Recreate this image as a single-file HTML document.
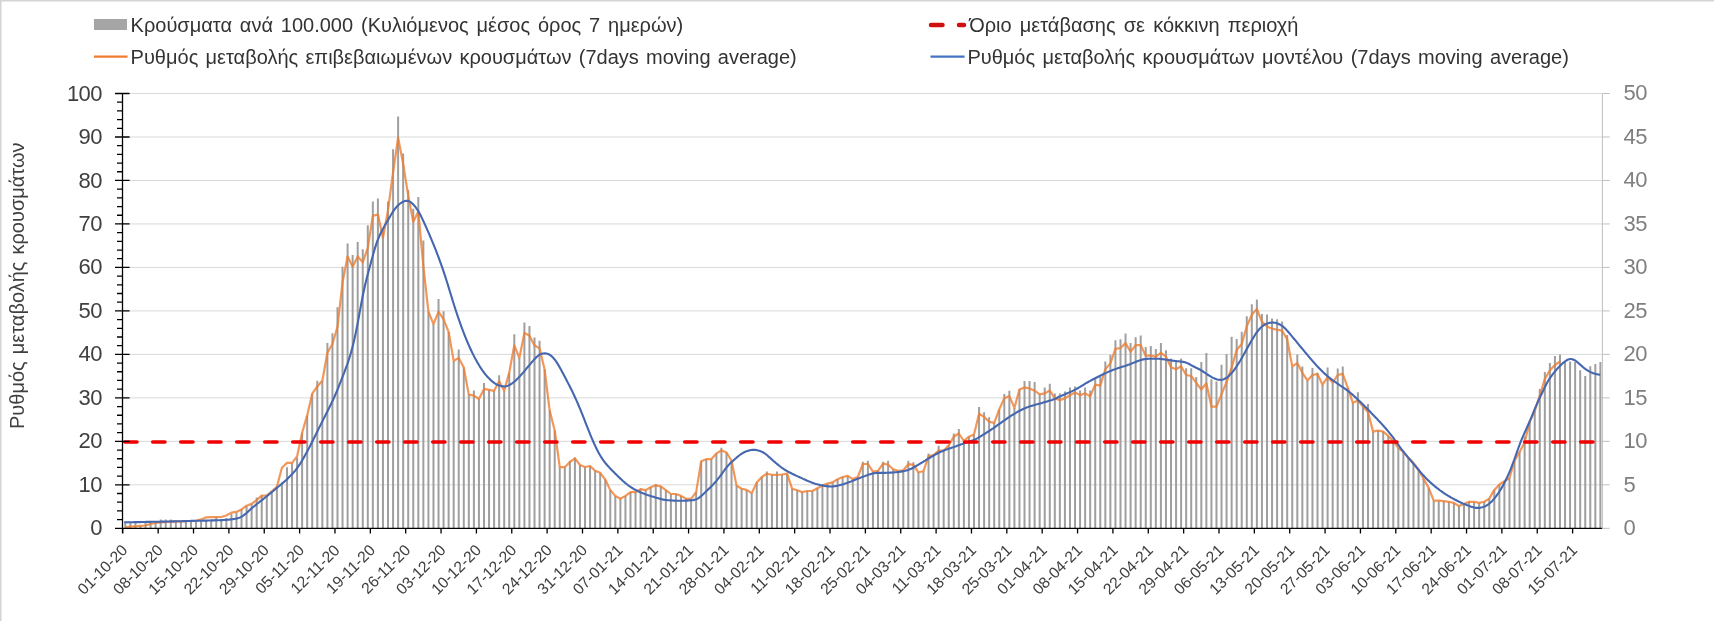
<!DOCTYPE html><html><head><meta charset="utf-8"><style>html,body{margin:0;padding:0;background:#fff;}body{width:1714px;height:621px;overflow:hidden;position:relative;}svg{position:absolute;left:0;top:0;will-change:transform;}</style></head><body>
<svg width="1714" height="621" viewBox="0 0 1714 621" font-family='"Liberation Sans", sans-serif'>
<rect x="0" y="0" width="1714" height="1.5" fill="#d4d4d4"/><rect x="0" y="0" width="1.5" height="621" fill="#d4d4d4"/>
<path d="M122.5 484.82H1602.4 M122.5 441.34H1602.4 M122.5 397.86H1602.4 M122.5 354.38H1602.4 M122.5 310.90H1602.4 M122.5 267.42H1602.4 M122.5 223.94H1602.4 M122.5 180.46H1602.4 M122.5 136.98H1602.4 M122.5 93.50H1602.4" stroke="#d9d9d9" stroke-width="1" fill="none"/>
<path d="M125.33 522.3V528.3 M130.38 522.3V528.3 M135.43 522.3V528.3 M140.48 525.8V528.3 M145.53 522.3V528.3 M150.58 522.3V528.3 M155.64 523.0V528.3 M160.69 519.5V528.3 M165.74 519.5V528.3 M170.79 519.5V528.3 M175.84 520.1V528.3 M180.89 521.2V528.3 M185.94 521.2V528.3 M191.00 521.2V528.3 M196.05 520.8V528.3 M201.10 520.8V528.3 M206.15 520.1V528.3 M211.20 519.5V528.3 M216.25 517.1V528.3 M221.31 519.1V528.3 M226.36 518.0V528.3 M231.41 513.7V528.3 M236.46 512.6V528.3 M241.51 509.3V528.3 M246.56 506.1V528.3 M251.62 503.9V528.3 M256.67 497.5V528.3 M261.72 495.3V528.3 M266.77 495.3V528.3 M271.82 491.0V528.3 M276.87 486.7V528.3 M281.93 482.4V528.3 M286.98 467.2V528.3 M292.03 462.9V528.3 M297.08 457.5V528.3 M302.13 432.7V528.3 M307.18 415.4V528.3 M312.23 393.7V528.3 M317.29 380.7V528.3 M322.34 380.7V528.3 M327.39 343.0V528.3 M332.44 333.2V528.3 M337.49 307.3V528.3 M342.54 266.7V528.3 M347.60 243.5V528.3 M352.65 255.1V528.3 M357.70 242.0V528.3 M362.75 249.3V528.3 M367.80 225.2V528.3 M372.85 201.4V528.3 M377.91 198.6V528.3 M382.96 230.4V528.3 M388.01 201.4V528.3 M393.06 149.3V528.3 M398.11 116.5V528.3 M403.16 153.6V528.3 M408.22 189.9V528.3 M413.27 208.7V528.3 M418.32 197.1V528.3 M423.37 240.6V528.3 M428.42 311.6V528.3 M433.47 324.2V528.3 M438.52 299.1V528.3 M443.58 311.2V528.3 M448.63 331.9V528.3 M453.68 360.9V528.3 M458.73 349.4V528.3 M463.78 367.6V528.3 M468.83 394.7V528.3 M473.89 390.5V528.3 M478.94 399.0V528.3 M483.99 382.9V528.3 M489.04 389.9V528.3 M494.09 390.8V528.3 M499.14 375.3V528.3 M504.20 390.8V528.3 M509.25 372.5V528.3 M514.30 334.3V528.3 M519.35 358.0V528.3 M524.40 322.4V528.3 M529.45 326.1V528.3 M534.51 337.6V528.3 M539.56 340.8V528.3 M544.61 369.6V528.3 M549.66 410.6V528.3 M554.71 430.5V528.3 M559.76 467.2V528.3 M564.81 467.2V528.3 M569.87 460.8V528.3 M574.92 457.5V528.3 M579.97 465.0V528.3 M585.02 467.0V528.3 M590.07 466.0V528.3 M595.12 470.8V528.3 M600.18 472.8V528.3 M605.23 479.5V528.3 M610.28 490.1V528.3 M615.33 495.9V528.3 M620.38 498.8V528.3 M625.43 495.9V528.3 M630.49 492.1V528.3 M635.54 492.1V528.3 M640.59 488.8V528.3 M645.64 490.1V528.3 M650.69 487.2V528.3 M655.74 484.1V528.3 M660.80 486.3V528.3 M665.85 490.1V528.3 M670.90 494.0V528.3 M675.95 494.0V528.3 M681.00 495.9V528.3 M686.05 498.8V528.3 M691.10 498.8V528.3 M696.16 492.1V528.3 M701.21 461.2V528.3 M706.26 459.2V528.3 M711.31 459.2V528.3 M716.36 453.4V528.3 M721.41 447.8V528.3 M726.47 452.5V528.3 M731.52 460.8V528.3 M736.57 485.6V528.3 M741.62 488.8V528.3 M746.67 489.9V528.3 M751.72 493.2V528.3 M756.78 482.4V528.3 M761.83 477.0V528.3 M766.88 471.6V528.3 M771.93 474.8V528.3 M776.98 471.6V528.3 M782.03 474.5V528.3 M787.09 473.7V528.3 M792.14 488.8V528.3 M797.19 490.3V528.3 M802.24 492.1V528.3 M807.29 491.0V528.3 M812.34 491.0V528.3 M817.39 488.3V528.3 M822.45 485.6V528.3 M827.50 483.5V528.3 M832.55 482.4V528.3 M837.60 479.3V528.3 M842.65 477.0V528.3 M847.70 475.9V528.3 M852.76 479.1V528.3 M857.81 477.0V528.3 M862.86 461.8V528.3 M867.91 460.8V528.3 M872.96 471.6V528.3 M878.01 470.9V528.3 M883.07 461.8V528.3 M888.12 460.8V528.3 M893.17 469.2V528.3 M898.22 470.9V528.3 M903.27 470.3V528.3 M908.32 460.8V528.3 M913.38 462.2V528.3 M918.43 472.3V528.3 M923.48 471.2V528.3 M928.53 453.5V528.3 M933.58 455.1V528.3 M938.63 445.8V528.3 M943.68 450.7V528.3 M948.74 445.3V528.3 M953.79 433.5V528.3 M958.84 429.1V528.3 M963.89 441.0V528.3 M968.94 436.7V528.3 M973.99 434.5V528.3 M979.05 406.9V528.3 M984.10 412.3V528.3 M989.15 417.3V528.3 M994.20 422.9V528.3 M999.25 409.4V528.3 M1004.30 393.9V528.3 M1009.36 390.7V528.3 M1014.41 407.9V528.3 M1019.46 389.6V528.3 M1024.51 381.0V528.3 M1029.56 381.0V528.3 M1034.61 382.0V528.3 M1039.67 394.3V528.3 M1044.72 387.6V528.3 M1049.77 383.7V528.3 M1054.82 393.4V528.3 M1059.87 393.4V528.3 M1064.92 391.4V528.3 M1069.97 387.6V528.3 M1075.03 386.6V528.3 M1080.08 390.5V528.3 M1085.13 387.6V528.3 M1090.18 390.5V528.3 M1095.23 377.9V528.3 M1100.28 377.0V528.3 M1105.34 361.5V528.3 M1110.39 354.7V528.3 M1115.44 340.2V528.3 M1120.49 339.3V528.3 M1125.54 333.5V528.3 M1130.59 343.1V528.3 M1135.65 337.3V528.3 M1140.70 335.4V528.3 M1145.75 347.0V528.3 M1150.80 346.0V528.3 M1155.85 348.9V528.3 M1160.90 343.1V528.3 M1165.96 350.3V528.3 M1171.01 358.6V528.3 M1176.06 361.5V528.3 M1181.11 358.6V528.3 M1186.16 368.3V528.3 M1191.21 368.3V528.3 M1196.26 377.0V528.3 M1201.32 362.0V528.3 M1206.37 352.9V528.3 M1211.42 379.3V528.3 M1216.47 381.5V528.3 M1221.52 364.8V528.3 M1226.57 354.0V528.3 M1231.63 336.7V528.3 M1236.68 338.9V528.3 M1241.73 331.8V528.3 M1246.78 316.2V528.3 M1251.83 304.3V528.3 M1256.88 299.4V528.3 M1261.94 314.1V528.3 M1266.99 314.5V528.3 M1272.04 318.4V528.3 M1277.09 319.3V528.3 M1282.14 321.5V528.3 M1287.19 335.1V528.3 M1292.25 366.4V528.3 M1297.30 354.5V528.3 M1302.35 366.4V528.3 M1307.40 380.4V528.3 M1312.45 368.1V528.3 M1317.50 372.8V528.3 M1322.55 384.7V528.3 M1327.61 367.4V528.3 M1332.66 382.5V528.3 M1337.71 368.5V528.3 M1342.76 366.4V528.3 M1347.81 387.9V528.3 M1352.86 402.8V528.3 M1357.92 392.3V528.3 M1362.97 406.5V528.3 M1368.02 404.1V528.3 M1373.07 431.6V528.3 M1378.12 430.5V528.3 M1383.17 431.6V528.3 M1388.23 435.9V528.3 M1393.28 441.3V528.3 M1398.33 447.8V528.3 M1403.38 452.0V528.3 M1408.43 457.9V528.3 M1413.48 462.9V528.3 M1418.54 469.4V528.3 M1423.59 479.1V528.3 M1428.64 487.8V528.3 M1433.69 500.7V528.3 M1438.74 500.7V528.3 M1443.79 501.2V528.3 M1448.84 501.8V528.3 M1453.90 502.9V528.3 M1458.95 506.1V528.3 M1464.00 503.9V528.3 M1469.05 501.8V528.3 M1474.10 501.8V528.3 M1479.15 502.9V528.3 M1484.21 501.8V528.3 M1489.26 498.6V528.3 M1494.31 489.9V528.3 M1499.36 484.5V528.3 M1504.41 481.3V528.3 M1509.46 478.0V528.3 M1514.52 460.8V528.3 M1519.57 452.1V528.3 M1524.62 436.4V528.3 M1529.67 421.9V528.3 M1534.72 411.1V528.3 M1539.77 388.9V528.3 M1544.83 372.1V528.3 M1549.88 362.9V528.3 M1554.93 355.9V528.3 M1559.98 354.4V528.3 M1565.03 361.5V528.3 M1570.08 361.5V528.3 M1575.13 362.1V528.3 M1580.19 370.3V528.3 M1585.24 376.1V528.3 M1590.29 366.2V528.3 M1595.34 364.1V528.3 M1600.39 362.1V528.3" stroke="#9f9f9f" stroke-width="2" fill="none"/>
<polyline points="125.33,527.3 130.38,526.7 135.43,526.3 140.48,525.8 145.53,525.5 150.58,524.0 155.64,523.0 160.69,522.3 165.74,522.0 170.79,521.8 175.84,521.6 180.89,521.4 185.94,521.2 191.00,521.0 196.05,520.8 201.10,519.4 206.15,517.3 211.20,517.2 216.25,517.1 221.31,517.0 226.36,515.5 231.41,512.6 236.46,511.9 241.51,509.5 246.56,505.7 251.62,503.8 256.67,500.1 261.72,495.7 266.77,495.7 271.82,491.4 276.87,486.7 281.93,467.7 286.98,462.9 292.03,462.9 297.08,456.4 302.13,432.7 307.18,415.4 312.23,393.7 317.29,386.5 322.34,380.7 327.39,352.7 332.44,344.0 337.49,326.8 342.54,282.3 347.60,256.5 352.65,266.7 357.70,256.5 362.75,262.3 367.80,247.8 372.85,215.9 377.91,214.5 382.96,237.7 388.01,210.1 393.06,172.5 398.11,137.7 403.16,163.8 408.22,195.7 413.27,221.7 418.32,211.6 423.37,266.4 428.42,311.6 433.47,324.2 438.52,311.6 443.58,319.3 448.63,331.9 453.68,360.9 458.73,358.0 463.78,367.6 468.83,394.7 473.89,395.7 478.94,399.0 483.99,388.9 489.04,389.9 494.09,390.8 499.14,381.2 504.20,390.8 509.25,372.5 514.30,345.4 519.35,358.0 524.40,332.9 529.45,335.7 534.51,345.4 539.56,348.3 544.61,369.6 549.66,410.6 554.71,430.5 559.76,467.2 564.81,467.2 569.87,462.1 574.92,458.3 579.97,465.0 585.02,467.0 590.07,466.0 595.12,470.8 600.18,472.8 605.23,479.5 610.28,490.1 615.33,495.9 620.38,498.8 625.43,495.9 630.49,492.1 635.54,492.1 640.59,489.2 645.64,490.1 650.69,487.2 655.74,485.3 660.80,486.3 665.85,490.1 670.90,494.0 675.95,494.0 681.00,495.9 686.05,498.8 691.10,498.8 696.16,492.1 701.21,461.2 706.26,459.2 711.31,459.2 716.36,453.4 721.41,450.5 726.47,452.5 731.52,460.8 736.57,485.6 741.62,488.8 746.67,489.9 751.72,493.2 756.78,482.4 761.83,477.0 766.88,473.7 771.93,474.8 776.98,474.8 782.03,474.5 787.09,473.7 792.14,488.8 797.19,490.3 802.24,492.1 807.29,491.0 812.34,491.0 817.39,488.3 822.45,485.6 827.50,483.5 832.55,482.4 837.60,479.3 842.65,477.0 847.70,475.9 852.76,479.1 857.81,477.0 862.86,464.0 867.91,464.0 872.96,471.6 878.01,470.9 883.07,463.7 888.12,464.7 893.17,469.2 898.22,470.9 903.27,470.3 908.32,464.2 913.38,464.8 918.43,472.3 923.48,471.2 928.53,456.1 933.58,455.1 938.63,450.7 943.68,450.7 948.74,445.3 953.79,436.7 958.84,433.5 963.89,441.0 968.94,436.7 973.99,434.5 979.05,413.7 984.10,416.9 989.15,421.8 994.20,422.9 999.25,409.4 1004.30,398.2 1009.36,396.1 1014.41,407.9 1019.46,389.6 1024.51,387.4 1029.56,388.5 1034.61,390.7 1039.67,394.3 1044.72,393.4 1049.77,390.5 1054.82,398.2 1059.87,400.1 1064.92,398.2 1069.97,395.3 1075.03,392.4 1080.08,395.3 1085.13,393.4 1090.18,396.3 1095.23,384.7 1100.28,385.7 1105.34,369.2 1110.39,363.4 1115.44,348.9 1120.49,348.0 1125.54,343.1 1130.59,351.8 1135.65,345.1 1140.70,345.1 1145.75,355.7 1150.80,355.7 1155.85,356.7 1160.90,352.8 1165.96,356.7 1171.01,367.3 1176.06,369.2 1181.11,366.3 1186.16,375.0 1191.21,376.0 1196.26,382.8 1201.32,389.5 1206.37,383.2 1211.42,406.6 1216.47,406.6 1221.52,394.2 1226.57,382.3 1231.63,367.7 1236.68,349.9 1241.73,344.0 1246.78,326.2 1251.83,314.8 1256.88,308.9 1261.94,321.8 1266.99,326.4 1272.04,328.6 1277.09,329.7 1282.14,330.7 1287.19,339.4 1292.25,366.4 1297.30,363.1 1302.35,372.8 1307.40,380.4 1312.45,375.0 1317.50,373.9 1322.55,384.7 1327.61,377.2 1332.66,382.5 1337.71,375.0 1342.76,373.9 1347.81,387.9 1352.86,402.8 1357.92,400.6 1362.97,406.5 1368.02,412.2 1373.07,431.6 1378.12,430.5 1383.17,431.6 1388.23,435.9 1393.28,441.3 1398.33,447.8 1403.38,452.0 1408.43,457.9 1413.48,462.9 1418.54,469.4 1423.59,479.1 1428.64,487.8 1433.69,500.7 1438.74,500.7 1443.79,501.2 1448.84,501.8 1453.90,502.9 1458.95,506.1 1464.00,503.9 1469.05,501.8 1474.10,501.8 1479.15,502.9 1484.21,501.8 1489.26,498.6 1494.31,489.9 1499.36,484.5 1504.41,481.3 1509.46,478.0 1514.52,460.8 1519.57,452.1 1524.62,442.4 1529.67,421.9 1534.72,411.1 1539.77,395.5 1544.83,379.0 1549.88,370.3 1554.93,365.0 1559.98,361.5" stroke="#ed7d31" stroke-opacity="0.8" stroke-width="2.2" fill="none" stroke-linejoin="round"/>
<polyline points="124.2,522.3 125.2,522.3 126.2,522.3 127.2,522.3 128.2,522.2 129.2,522.2 130.2,522.2 131.2,522.2 132.2,522.2 133.2,522.2 134.2,522.1 135.2,522.1 136.2,522.1 137.2,522.1 138.2,522.1 139.2,522.1 140.2,522.1 141.2,522.0 142.2,522.0 143.2,522.0 144.2,522.0 145.2,522.0 146.2,521.9 147.2,521.9 148.2,521.9 149.2,521.9 150.2,521.9 151.2,521.8 152.2,521.8 153.2,521.8 154.2,521.8 155.2,521.8 156.2,521.7 157.2,521.7 158.2,521.7 159.2,521.7 160.2,521.7 161.2,521.6 162.2,521.6 163.2,521.6 164.2,521.6 165.2,521.6 166.2,521.5 167.2,521.5 168.2,521.5 169.2,521.5 170.2,521.4 171.2,521.4 172.2,521.4 173.2,521.4 174.2,521.4 175.2,521.3 176.2,521.3 177.2,521.3 178.2,521.3 179.2,521.2 180.2,521.2 181.2,521.2 182.2,521.2 183.2,521.1 184.2,521.1 185.2,521.1 186.2,521.1 187.2,521.0 188.2,521.0 189.2,521.0 190.2,521.0 191.2,520.9 192.2,520.9 193.2,520.9 194.2,520.9 195.2,520.8 196.2,520.8 197.2,520.8 198.2,520.8 199.2,520.7 200.2,520.7 201.2,520.7 202.2,520.7 203.2,520.7 204.2,520.6 205.2,520.6 206.2,520.6 207.2,520.6 208.2,520.5 209.2,520.5 210.2,520.5 211.2,520.5 212.2,520.4 213.2,520.4 214.2,520.4 215.2,520.3 216.2,520.3 217.2,520.3 218.2,520.2 219.2,520.2 220.2,520.2 221.2,520.1 222.2,520.1 223.2,520.0 224.2,520.0 225.2,519.9 226.2,519.9 227.2,519.8 228.2,519.7 229.2,519.6 230.2,519.5 231.2,519.4 232.2,519.3 233.2,519.1 234.2,519.0 235.2,518.8 236.2,518.6 237.2,518.4 238.2,518.1 239.2,517.8 240.2,517.4 241.2,516.9 242.2,516.3 243.2,515.7 244.2,514.9 245.2,514.1 246.2,513.3 247.2,512.4 248.2,511.4 249.2,510.5 250.2,509.6 251.2,508.7 252.2,507.9 253.2,507.0 254.2,506.2 255.2,505.4 256.2,504.6 257.2,503.8 258.2,503.0 259.2,502.2 260.2,501.4 261.2,500.7 262.2,499.9 263.2,499.1 264.2,498.3 265.2,497.5 266.2,496.7 267.2,495.9 268.2,495.1 269.2,494.3 270.2,493.5 271.2,492.6 272.2,491.8 273.2,491.0 274.2,490.1 275.2,489.3 276.2,488.5 277.2,487.6 278.2,486.8 279.2,486.0 280.2,485.1 281.2,484.3 282.2,483.5 283.2,482.6 284.2,481.7 285.2,480.9 286.2,480.0 287.2,479.0 288.2,478.1 289.2,477.1 290.2,476.1 291.2,475.1 292.2,474.0 293.2,472.9 294.2,471.8 295.2,470.6 296.2,469.3 297.2,468.0 298.2,466.6 299.2,465.1 300.2,463.6 301.2,462.0 302.2,460.3 303.2,458.6 304.2,456.9 305.2,455.1 306.2,453.3 307.2,451.5 308.2,449.6 309.2,447.7 310.2,445.7 311.2,443.8 312.2,441.8 313.2,439.7 314.2,437.7 315.2,435.7 316.2,433.7 317.2,431.7 318.2,429.6 319.2,427.6 320.2,425.6 321.2,423.6 322.2,421.6 323.2,419.6 324.2,417.7 325.2,415.7 326.2,413.7 327.2,411.7 328.2,409.7 329.2,407.8 330.2,405.7 331.2,403.7 332.2,401.6 333.2,399.5 334.2,397.3 335.2,395.0 336.2,392.7 337.2,390.3 338.2,387.8 339.2,385.3 340.2,382.8 341.2,380.3 342.2,377.7 343.2,375.1 344.2,372.6 345.2,369.9 346.2,367.2 347.2,364.5 348.2,361.6 349.2,358.5 350.2,355.3 351.2,351.9 352.2,348.2 353.2,344.3 354.2,340.1 355.2,335.6 356.2,330.8 357.2,325.8 358.2,320.4 359.2,315.0 360.2,309.4 361.2,304.0 362.2,298.7 363.2,293.7 364.2,289.0 365.2,284.6 366.2,280.5 367.2,276.5 368.2,272.7 369.2,269.0 370.2,265.3 371.2,261.6 372.2,257.9 373.2,254.2 374.2,250.7 375.2,247.4 376.2,244.2 377.2,241.4 378.2,238.8 379.2,236.4 380.2,234.2 381.2,232.1 382.2,230.2 383.2,228.4 384.2,226.6 385.2,224.8 386.2,223.1 387.2,221.3 388.2,219.6 389.2,217.9 390.2,216.2 391.2,214.5 392.2,212.9 393.2,211.4 394.2,209.9 395.2,208.6 396.2,207.3 397.2,206.2 398.2,205.2 399.2,204.3 400.2,203.5 401.2,202.8 402.2,202.2 403.2,201.7 404.2,201.3 405.2,201.0 406.2,200.8 407.2,200.9 408.2,201.0 409.2,201.4 410.2,201.9 411.2,202.6 412.2,203.5 413.2,204.4 414.2,205.5 415.2,206.7 416.2,208.1 417.2,209.5 418.2,211.1 419.2,212.8 420.2,214.6 421.2,216.5 422.2,218.6 423.2,220.7 424.2,222.9 425.2,225.1 426.2,227.3 427.2,229.6 428.2,231.9 429.2,234.2 430.2,236.5 431.2,238.9 432.2,241.3 433.2,243.7 434.2,246.2 435.2,248.7 436.2,251.2 437.2,253.8 438.2,256.4 439.2,259.1 440.2,261.8 441.2,264.6 442.2,267.4 443.2,270.3 444.2,273.3 445.2,276.3 446.2,279.5 447.2,282.7 448.2,285.9 449.2,289.2 450.2,292.5 451.2,295.8 452.2,299.1 453.2,302.3 454.2,305.5 455.2,308.6 456.2,311.7 457.2,314.7 458.2,317.6 459.2,320.5 460.2,323.3 461.2,326.1 462.2,328.8 463.2,331.5 464.2,334.1 465.2,336.6 466.2,339.1 467.2,341.5 468.2,343.8 469.2,346.1 470.2,348.3 471.2,350.5 472.2,352.6 473.2,354.6 474.2,356.6 475.2,358.5 476.2,360.3 477.2,362.1 478.2,363.8 479.2,365.5 480.2,367.1 481.2,368.6 482.2,370.1 483.2,371.5 484.2,372.8 485.2,374.1 486.2,375.4 487.2,376.5 488.2,377.6 489.2,378.6 490.2,379.6 491.2,380.5 492.2,381.4 493.2,382.2 494.2,382.9 495.2,383.6 496.2,384.2 497.2,384.7 498.2,385.1 499.2,385.5 500.2,385.8 501.2,386.1 502.2,386.3 503.2,386.4 504.2,386.5 505.2,386.4 506.2,386.2 507.2,386.0 508.2,385.6 509.2,385.1 510.2,384.6 511.2,384.0 512.2,383.3 513.2,382.5 514.2,381.7 515.2,380.9 516.2,380.0 517.2,379.0 518.2,378.0 519.2,376.9 520.2,375.9 521.2,374.8 522.2,373.6 523.2,372.5 524.2,371.3 525.2,370.1 526.2,368.9 527.2,367.7 528.2,366.5 529.2,365.3 530.2,364.1 531.2,362.9 532.2,361.8 533.2,360.6 534.2,359.5 535.2,358.4 536.2,357.4 537.2,356.5 538.2,355.7 539.2,354.9 540.2,354.4 541.2,353.9 542.2,353.6 543.2,353.5 544.2,353.4 545.2,353.4 546.2,353.5 547.2,353.7 548.2,354.0 549.2,354.5 550.2,355.1 551.2,355.9 552.2,356.8 553.2,357.8 554.2,359.0 555.2,360.2 556.2,361.6 557.2,363.1 558.2,364.7 559.2,366.4 560.2,368.2 561.2,370.0 562.2,371.9 563.2,373.8 564.2,375.7 565.2,377.6 566.2,379.5 567.2,381.4 568.2,383.4 569.2,385.3 570.2,387.3 571.2,389.3 572.2,391.3 573.2,393.4 574.2,395.5 575.2,397.7 576.2,399.9 577.2,402.1 578.2,404.5 579.2,406.8 580.2,409.2 581.2,411.7 582.2,414.2 583.2,416.7 584.2,419.2 585.2,421.8 586.2,424.3 587.2,426.8 588.2,429.4 589.2,431.9 590.2,434.3 591.2,436.8 592.2,439.2 593.2,441.5 594.2,443.7 595.2,445.9 596.2,448.0 597.2,450.0 598.2,452.0 599.2,453.8 600.2,455.5 601.2,457.2 602.2,458.7 603.2,460.1 604.2,461.5 605.2,462.8 606.2,464.0 607.2,465.2 608.2,466.3 609.2,467.4 610.2,468.5 611.2,469.5 612.2,470.6 613.2,471.6 614.2,472.6 615.2,473.6 616.2,474.5 617.2,475.5 618.2,476.5 619.2,477.4 620.2,478.4 621.2,479.3 622.2,480.2 623.2,481.2 624.2,482.0 625.2,482.9 626.2,483.7 627.2,484.5 628.2,485.3 629.2,486.0 630.2,486.7 631.2,487.4 632.2,488.0 633.2,488.6 634.2,489.2 635.2,489.7 636.2,490.3 637.2,490.8 638.2,491.3 639.2,491.7 640.2,492.2 641.2,492.6 642.2,493.0 643.2,493.4 644.2,493.8 645.2,494.2 646.2,494.5 647.2,494.9 648.2,495.2 649.2,495.5 650.2,495.9 651.2,496.2 652.2,496.5 653.2,496.8 654.2,497.1 655.2,497.4 656.2,497.7 657.2,498.0 658.2,498.3 659.2,498.6 660.2,498.8 661.2,499.1 662.2,499.4 663.2,499.6 664.2,499.8 665.2,499.9 666.2,500.0 667.2,500.2 668.2,500.3 669.2,500.3 670.2,500.4 671.2,500.5 672.2,500.5 673.2,500.6 674.2,500.6 675.2,500.7 676.2,500.7 677.2,500.7 678.2,500.7 679.2,500.7 680.2,500.7 681.2,500.7 682.2,500.7 683.2,500.7 684.2,500.7 685.2,500.7 686.2,500.6 687.2,500.6 688.2,500.5 689.2,500.5 690.2,500.4 691.2,500.3 692.2,500.2 693.2,500.1 694.2,499.9 695.2,499.6 696.2,499.3 697.2,498.9 698.2,498.3 699.2,497.6 700.2,496.9 701.2,496.0 702.2,495.1 703.2,494.2 704.2,493.2 705.2,492.3 706.2,491.3 707.2,490.3 708.2,489.4 709.2,488.4 710.2,487.4 711.2,486.4 712.2,485.4 713.2,484.4 714.2,483.3 715.2,482.2 716.2,481.1 717.2,479.9 718.2,478.6 719.2,477.4 720.2,476.0 721.2,474.7 722.2,473.3 723.2,471.9 724.2,470.5 725.2,469.2 726.2,467.9 727.2,466.7 728.2,465.5 729.2,464.4 730.2,463.3 731.2,462.4 732.2,461.5 733.2,460.6 734.2,459.7 735.2,458.8 736.2,458.0 737.2,457.1 738.2,456.3 739.2,455.5 740.2,454.7 741.2,454.0 742.2,453.4 743.2,452.8 744.2,452.3 745.2,451.8 746.2,451.4 747.2,451.0 748.2,450.7 749.2,450.4 750.2,450.2 751.2,450.0 752.2,449.9 753.2,449.9 754.2,449.9 755.2,449.9 756.2,450.0 757.2,450.2 758.2,450.5 759.2,450.7 760.2,451.1 761.2,451.5 762.2,451.9 763.2,452.5 764.2,453.1 765.2,453.7 766.2,454.5 767.2,455.3 768.2,456.2 769.2,457.1 770.2,458.0 771.2,458.9 772.2,459.8 773.2,460.7 774.2,461.6 775.2,462.4 776.2,463.3 777.2,464.1 778.2,464.9 779.2,465.7 780.2,466.5 781.2,467.3 782.2,468.0 783.2,468.7 784.2,469.4 785.2,470.0 786.2,470.6 787.2,471.2 788.2,471.7 789.2,472.3 790.2,472.8 791.2,473.3 792.2,473.8 793.2,474.2 794.2,474.7 795.2,475.2 796.2,475.6 797.2,476.1 798.2,476.6 799.2,477.0 800.2,477.5 801.2,477.9 802.2,478.4 803.2,478.9 804.2,479.3 805.2,479.8 806.2,480.2 807.2,480.7 808.2,481.1 809.2,481.5 810.2,481.9 811.2,482.3 812.2,482.7 813.2,483.0 814.2,483.4 815.2,483.7 816.2,484.0 817.2,484.2 818.2,484.5 819.2,484.7 820.2,485.0 821.2,485.2 822.2,485.4 823.2,485.6 824.2,485.8 825.2,486.0 826.2,486.1 827.2,486.3 828.2,486.4 829.2,486.4 830.2,486.5 831.2,486.5 832.2,486.5 833.2,486.4 834.2,486.3 835.2,486.1 836.2,486.0 837.2,485.8 838.2,485.5 839.2,485.3 840.2,485.0 841.2,484.8 842.2,484.5 843.2,484.2 844.2,483.9 845.2,483.5 846.2,483.2 847.2,482.9 848.2,482.5 849.2,482.1 850.2,481.7 851.2,481.4 852.2,481.0 853.2,480.6 854.2,480.2 855.2,479.8 856.2,479.4 857.2,479.0 858.2,478.6 859.2,478.2 860.2,477.8 861.2,477.4 862.2,477.0 863.2,476.6 864.2,476.2 865.2,475.9 866.2,475.5 867.2,475.2 868.2,474.8 869.2,474.5 870.2,474.2 871.2,473.9 872.2,473.6 873.2,473.4 874.2,473.2 875.2,473.1 876.2,473.0 877.2,472.9 878.2,472.9 879.2,472.9 880.2,472.9 881.2,472.9 882.2,472.9 883.2,472.9 884.2,472.9 885.2,472.9 886.2,472.8 887.2,472.8 888.2,472.7 889.2,472.7 890.2,472.6 891.2,472.6 892.2,472.5 893.2,472.5 894.2,472.4 895.2,472.3 896.2,472.2 897.2,472.1 898.2,472.0 899.2,471.9 900.2,471.8 901.2,471.6 902.2,471.4 903.2,471.3 904.2,471.0 905.2,470.8 906.2,470.5 907.2,470.2 908.2,469.9 909.2,469.5 910.2,469.1 911.2,468.7 912.2,468.2 913.2,467.7 914.2,467.1 915.2,466.5 916.2,466.0 917.2,465.4 918.2,464.8 919.2,464.2 920.2,463.6 921.2,463.0 922.2,462.4 923.2,461.8 924.2,461.2 925.2,460.6 926.2,459.9 927.2,459.3 928.2,458.7 929.2,458.1 930.2,457.5 931.2,456.9 932.2,456.3 933.2,455.7 934.2,455.2 935.2,454.6 936.2,454.0 937.2,453.5 938.2,453.0 939.2,452.5 940.2,452.0 941.2,451.6 942.2,451.2 943.2,450.8 944.2,450.4 945.2,450.0 946.2,449.6 947.2,449.3 948.2,448.9 949.2,448.6 950.2,448.2 951.2,447.9 952.2,447.6 953.2,447.2 954.2,446.9 955.2,446.5 956.2,446.2 957.2,445.8 958.2,445.4 959.2,445.1 960.2,444.7 961.2,444.3 962.2,444.0 963.2,443.6 964.2,443.2 965.2,442.9 966.2,442.5 967.2,442.2 968.2,441.9 969.2,441.5 970.2,441.2 971.2,440.9 972.2,440.6 973.2,440.2 974.2,439.8 975.2,439.4 976.2,438.9 977.2,438.4 978.2,437.8 979.2,437.2 980.2,436.6 981.2,436.0 982.2,435.3 983.2,434.7 984.2,434.1 985.2,433.5 986.2,432.9 987.2,432.2 988.2,431.6 989.2,431.0 990.2,430.3 991.2,429.6 992.2,428.9 993.2,428.3 994.2,427.6 995.2,426.9 996.2,426.1 997.2,425.4 998.2,424.7 999.2,424.0 1000.2,423.3 1001.2,422.6 1002.2,421.9 1003.2,421.2 1004.2,420.5 1005.2,419.8 1006.2,419.1 1007.2,418.4 1008.2,417.7 1009.2,417.1 1010.2,416.4 1011.2,415.7 1012.2,415.1 1013.2,414.5 1014.2,413.9 1015.2,413.3 1016.2,412.7 1017.2,412.1 1018.2,411.5 1019.2,411.0 1020.2,410.5 1021.2,410.0 1022.2,409.5 1023.2,409.0 1024.2,408.5 1025.2,408.1 1026.2,407.7 1027.2,407.3 1028.2,407.0 1029.2,406.6 1030.2,406.3 1031.2,406.0 1032.2,405.7 1033.2,405.4 1034.2,405.1 1035.2,404.8 1036.2,404.5 1037.2,404.3 1038.2,404.0 1039.2,403.7 1040.2,403.5 1041.2,403.2 1042.2,402.9 1043.2,402.6 1044.2,402.3 1045.2,402.0 1046.2,401.7 1047.2,401.4 1048.2,401.1 1049.2,400.8 1050.2,400.5 1051.2,400.2 1052.2,399.9 1053.2,399.5 1054.2,399.1 1055.2,398.7 1056.2,398.3 1057.2,397.8 1058.2,397.3 1059.2,396.8 1060.2,396.4 1061.2,395.9 1062.2,395.5 1063.2,395.0 1064.2,394.6 1065.2,394.2 1066.2,393.8 1067.2,393.3 1068.2,392.9 1069.2,392.5 1070.2,392.0 1071.2,391.6 1072.2,391.1 1073.2,390.6 1074.2,390.1 1075.2,389.6 1076.2,389.1 1077.2,388.5 1078.2,388.0 1079.2,387.4 1080.2,386.8 1081.2,386.2 1082.2,385.6 1083.2,385.0 1084.2,384.4 1085.2,383.7 1086.2,383.1 1087.2,382.5 1088.2,382.0 1089.2,381.4 1090.2,380.9 1091.2,380.3 1092.2,379.8 1093.2,379.3 1094.2,378.8 1095.2,378.3 1096.2,377.8 1097.2,377.3 1098.2,376.8 1099.2,376.3 1100.2,375.8 1101.2,375.3 1102.2,374.8 1103.2,374.3 1104.2,373.8 1105.2,373.3 1106.2,372.9 1107.2,372.4 1108.2,371.9 1109.2,371.5 1110.2,371.1 1111.2,370.7 1112.2,370.2 1113.2,369.8 1114.2,369.5 1115.2,369.1 1116.2,368.7 1117.2,368.4 1118.2,368.0 1119.2,367.7 1120.2,367.4 1121.2,367.1 1122.2,366.8 1123.2,366.5 1124.2,366.2 1125.2,365.9 1126.2,365.5 1127.2,365.2 1128.2,364.8 1129.2,364.5 1130.2,364.1 1131.2,363.7 1132.2,363.3 1133.2,362.9 1134.2,362.5 1135.2,362.1 1136.2,361.7 1137.2,361.3 1138.2,360.9 1139.2,360.6 1140.2,360.2 1141.2,359.9 1142.2,359.6 1143.2,359.4 1144.2,359.2 1145.2,359.1 1146.2,359.0 1147.2,358.9 1148.2,358.8 1149.2,358.8 1150.2,358.7 1151.2,358.7 1152.2,358.7 1153.2,358.7 1154.2,358.7 1155.2,358.7 1156.2,358.7 1157.2,358.7 1158.2,358.8 1159.2,358.8 1160.2,358.9 1161.2,359.0 1162.2,359.1 1163.2,359.3 1164.2,359.4 1165.2,359.5 1166.2,359.7 1167.2,359.8 1168.2,360.0 1169.2,360.1 1170.2,360.3 1171.2,360.5 1172.2,360.6 1173.2,360.8 1174.2,360.9 1175.2,361.0 1176.2,361.1 1177.2,361.2 1178.2,361.3 1179.2,361.4 1180.2,361.5 1181.2,361.6 1182.2,361.7 1183.2,361.9 1184.2,362.1 1185.2,362.3 1186.2,362.7 1187.2,363.1 1188.2,363.5 1189.2,364.0 1190.2,364.6 1191.2,365.2 1192.2,365.7 1193.2,366.3 1194.2,366.8 1195.2,367.3 1196.2,367.8 1197.2,368.2 1198.2,368.7 1199.2,369.2 1200.2,369.7 1201.2,370.3 1202.2,370.9 1203.2,371.6 1204.2,372.3 1205.2,373.0 1206.2,373.7 1207.2,374.4 1208.2,375.0 1209.2,375.6 1210.2,376.2 1211.2,376.8 1212.2,377.4 1213.2,377.9 1214.2,378.3 1215.2,378.8 1216.2,379.1 1217.2,379.5 1218.2,379.7 1219.2,379.8 1220.2,379.9 1221.2,379.8 1222.2,379.7 1223.2,379.4 1224.2,379.0 1225.2,378.5 1226.2,377.9 1227.2,377.3 1228.2,376.5 1229.2,375.6 1230.2,374.6 1231.2,373.5 1232.2,372.4 1233.2,371.1 1234.2,369.8 1235.2,368.5 1236.2,367.0 1237.2,365.5 1238.2,364.0 1239.2,362.3 1240.2,360.7 1241.2,359.0 1242.2,357.3 1243.2,355.5 1244.2,353.7 1245.2,351.9 1246.2,350.1 1247.2,348.3 1248.2,346.5 1249.2,344.7 1250.2,342.9 1251.2,341.2 1252.2,339.5 1253.2,337.9 1254.2,336.3 1255.2,334.7 1256.2,333.2 1257.2,331.8 1258.2,330.5 1259.2,329.3 1260.2,328.2 1261.2,327.2 1262.2,326.3 1263.2,325.6 1264.2,324.9 1265.2,324.4 1266.2,323.9 1267.2,323.5 1268.2,323.2 1269.2,322.9 1270.2,322.7 1271.2,322.6 1272.2,322.5 1273.2,322.5 1274.2,322.7 1275.2,322.8 1276.2,323.1 1277.2,323.4 1278.2,323.8 1279.2,324.2 1280.2,324.7 1281.2,325.3 1282.2,326.0 1283.2,326.7 1284.2,327.6 1285.2,328.5 1286.2,329.6 1287.2,330.7 1288.2,331.8 1289.2,333.0 1290.2,334.2 1291.2,335.4 1292.2,336.6 1293.2,337.8 1294.2,339.0 1295.2,340.2 1296.2,341.4 1297.2,342.6 1298.2,343.9 1299.2,345.1 1300.2,346.3 1301.2,347.5 1302.2,348.7 1303.2,349.9 1304.2,351.1 1305.2,352.3 1306.2,353.5 1307.2,354.7 1308.2,355.9 1309.2,357.1 1310.2,358.3 1311.2,359.4 1312.2,360.6 1313.2,361.7 1314.2,362.9 1315.2,364.0 1316.2,365.1 1317.2,366.2 1318.2,367.2 1319.2,368.3 1320.2,369.3 1321.2,370.3 1322.2,371.3 1323.2,372.2 1324.2,373.2 1325.2,374.1 1326.2,375.0 1327.2,375.9 1328.2,376.7 1329.2,377.5 1330.2,378.3 1331.2,379.1 1332.2,379.9 1333.2,380.6 1334.2,381.3 1335.2,382.0 1336.2,382.7 1337.2,383.4 1338.2,384.1 1339.2,384.8 1340.2,385.5 1341.2,386.2 1342.2,386.8 1343.2,387.5 1344.2,388.2 1345.2,388.9 1346.2,389.6 1347.2,390.4 1348.2,391.1 1349.2,391.9 1350.2,392.7 1351.2,393.5 1352.2,394.4 1353.2,395.3 1354.2,396.2 1355.2,397.1 1356.2,398.0 1357.2,399.0 1358.2,399.9 1359.2,400.9 1360.2,401.8 1361.2,402.8 1362.2,403.8 1363.2,404.8 1364.2,405.8 1365.2,406.8 1366.2,407.8 1367.2,408.8 1368.2,409.8 1369.2,410.8 1370.2,411.8 1371.2,412.9 1372.2,413.9 1373.2,414.9 1374.2,416.0 1375.2,417.0 1376.2,418.1 1377.2,419.1 1378.2,420.2 1379.2,421.2 1380.2,422.3 1381.2,423.4 1382.2,424.5 1383.2,425.6 1384.2,426.7 1385.2,427.8 1386.2,429.0 1387.2,430.2 1388.2,431.4 1389.2,432.6 1390.2,433.8 1391.2,435.1 1392.2,436.4 1393.2,437.7 1394.2,439.1 1395.2,440.5 1396.2,441.9 1397.2,443.3 1398.2,444.7 1399.2,446.1 1400.2,447.5 1401.2,448.8 1402.2,450.1 1403.2,451.4 1404.2,452.7 1405.2,453.9 1406.2,455.2 1407.2,456.4 1408.2,457.6 1409.2,458.8 1410.2,459.9 1411.2,461.1 1412.2,462.3 1413.2,463.5 1414.2,464.7 1415.2,465.9 1416.2,467.1 1417.2,468.3 1418.2,469.5 1419.2,470.6 1420.2,471.8 1421.2,473.0 1422.2,474.1 1423.2,475.2 1424.2,476.3 1425.2,477.4 1426.2,478.4 1427.2,479.4 1428.2,480.4 1429.2,481.3 1430.2,482.3 1431.2,483.1 1432.2,484.0 1433.2,484.9 1434.2,485.7 1435.2,486.6 1436.2,487.4 1437.2,488.2 1438.2,488.9 1439.2,489.7 1440.2,490.5 1441.2,491.2 1442.2,491.9 1443.2,492.6 1444.2,493.3 1445.2,493.9 1446.2,494.6 1447.2,495.2 1448.2,495.8 1449.2,496.4 1450.2,497.0 1451.2,497.6 1452.2,498.1 1453.2,498.7 1454.2,499.2 1455.2,499.8 1456.2,500.3 1457.2,500.8 1458.2,501.3 1459.2,501.8 1460.2,502.2 1461.2,502.7 1462.2,503.1 1463.2,503.6 1464.2,504.0 1465.2,504.4 1466.2,504.8 1467.2,505.2 1468.2,505.6 1469.2,506.0 1470.2,506.3 1471.2,506.7 1472.2,507.0 1473.2,507.3 1474.2,507.5 1475.2,507.7 1476.2,507.9 1477.2,507.9 1478.2,507.9 1479.2,507.9 1480.2,507.7 1481.2,507.5 1482.2,507.3 1483.2,507.0 1484.2,506.6 1485.2,506.2 1486.2,505.7 1487.2,505.1 1488.2,504.5 1489.2,503.7 1490.2,502.8 1491.2,501.9 1492.2,500.9 1493.2,499.8 1494.2,498.6 1495.2,497.3 1496.2,496.1 1497.2,494.7 1498.2,493.3 1499.2,491.8 1500.2,490.2 1501.2,488.6 1502.2,486.9 1503.2,485.1 1504.2,483.2 1505.2,481.2 1506.2,479.2 1507.2,477.1 1508.2,474.9 1509.2,472.7 1510.2,470.3 1511.2,467.8 1512.2,465.2 1513.2,462.5 1514.2,459.8 1515.2,457.0 1516.2,454.1 1517.2,451.3 1518.2,448.5 1519.2,445.8 1520.2,443.2 1521.2,440.7 1522.2,438.2 1523.2,435.9 1524.2,433.6 1525.2,431.4 1526.2,429.2 1527.2,427.0 1528.2,424.8 1529.2,422.5 1530.2,420.2 1531.2,417.8 1532.2,415.4 1533.2,412.9 1534.2,410.4 1535.2,407.9 1536.2,405.6 1537.2,403.3 1538.2,401.0 1539.2,398.9 1540.2,396.8 1541.2,394.8 1542.2,392.7 1543.2,390.6 1544.2,388.5 1545.2,386.4 1546.2,384.5 1547.2,382.6 1548.2,380.8 1549.2,379.2 1550.2,377.7 1551.2,376.3 1552.2,374.9 1553.2,373.6 1554.2,372.4 1555.2,371.2 1556.2,370.0 1557.2,368.9 1558.2,367.8 1559.2,366.7 1560.2,365.7 1561.2,364.7 1562.2,363.8 1563.2,362.9 1564.2,362.1 1565.2,361.3 1566.2,360.6 1567.2,360.0 1568.2,359.5 1569.2,359.2 1570.2,359.0 1571.2,359.0 1572.2,359.2 1573.2,359.5 1574.2,360.0 1575.2,360.5 1576.2,361.2 1577.2,362.0 1578.2,362.9 1579.2,363.7 1580.2,364.6 1581.2,365.5 1582.2,366.4 1583.2,367.3 1584.2,368.1 1585.2,368.8 1586.2,369.6 1587.2,370.2 1588.2,370.8 1589.2,371.4 1590.2,371.9 1591.2,372.4 1592.2,372.8 1593.2,373.2 1594.2,373.5 1595.2,373.8 1596.2,374.1 1597.2,374.3 1598.2,374.5 1599.2,374.6 1600.2,374.7" stroke="#4567b0" stroke-width="2.1" fill="none" stroke-linejoin="round"/>
<path d="M124.75 442H1600" stroke="#f00000" stroke-width="3.6" stroke-linecap="round" stroke-dasharray="12.2 15.8" fill="none"/>
<path d="M122.5 93.5V533.5 M122.5 528.3H1602.4 M115 528.30H129.6 M115 484.82H129.6 M115 441.34H129.6 M115 397.86H129.6 M115 354.38H129.6 M115 310.90H129.6 M115 267.42H129.6 M115 223.94H129.6 M115 180.46H129.6 M115 136.98H129.6 M115 93.50H129.6 M117 519.60H122.5 M117 510.91H122.5 M117 502.21H122.5 M117 493.52H122.5 M117 476.12H122.5 M117 467.43H122.5 M117 458.73H122.5 M117 450.04H122.5 M117 432.64H122.5 M117 423.95H122.5 M117 415.25H122.5 M117 406.56H122.5 M117 389.16H122.5 M117 380.47H122.5 M117 371.77H122.5 M117 363.08H122.5 M117 345.68H122.5 M117 336.99H122.5 M117 328.29H122.5 M117 319.60H122.5 M117 302.20H122.5 M117 293.51H122.5 M117 284.81H122.5 M117 276.12H122.5 M117 258.72H122.5 M117 250.03H122.5 M117 241.33H122.5 M117 232.64H122.5 M117 215.24H122.5 M117 206.55H122.5 M117 197.85H122.5 M117 189.16H122.5 M117 171.76H122.5 M117 163.07H122.5 M117 154.37H122.5 M117 145.68H122.5 M117 128.28H122.5 M117 119.59H122.5 M117 110.89H122.5 M117 102.20H122.5 M122.80 528.3V533.5 M158.16 528.3V533.5 M193.52 528.3V533.5 M228.88 528.3V533.5 M264.24 528.3V533.5 M299.61 528.3V533.5 M334.97 528.3V533.5 M370.33 528.3V533.5 M405.69 528.3V533.5 M441.05 528.3V533.5 M476.41 528.3V533.5 M511.77 528.3V533.5 M547.13 528.3V533.5 M582.50 528.3V533.5 M617.86 528.3V533.5 M653.22 528.3V533.5 M688.58 528.3V533.5 M723.94 528.3V533.5 M759.30 528.3V533.5 M794.66 528.3V533.5 M830.02 528.3V533.5 M865.39 528.3V533.5 M900.75 528.3V533.5 M936.11 528.3V533.5 M971.47 528.3V533.5 M1006.83 528.3V533.5 M1042.19 528.3V533.5 M1077.55 528.3V533.5 M1112.91 528.3V533.5 M1148.27 528.3V533.5 M1183.64 528.3V533.5 M1219.00 528.3V533.5 M1254.36 528.3V533.5 M1289.72 528.3V533.5 M1325.08 528.3V533.5 M1360.44 528.3V533.5 M1395.80 528.3V533.5 M1431.16 528.3V533.5 M1466.53 528.3V533.5 M1501.89 528.3V533.5 M1537.25 528.3V533.5 M1572.61 528.3V533.5" stroke="#000" stroke-width="1.3" fill="none"/>
<path d="M1602.4 93.3V528.3 M1602.4 528.30H1609.7 M1602.4 484.82H1609.7 M1602.4 441.34H1609.7 M1602.4 397.86H1609.7 M1602.4 354.38H1609.7 M1602.4 310.90H1609.7 M1602.4 267.42H1609.7 M1602.4 223.94H1609.7 M1602.4 180.46H1609.7 M1602.4 136.98H1609.7 M1602.4 93.50H1609.7" stroke="#bfbfbf" stroke-width="1" fill="none"/>
<text x="101.9" y="535.3" font-size="22" letter-spacing="-0.6" fill="#404040" text-anchor="end">0</text>
<text x="101.9" y="491.8" font-size="22" letter-spacing="-0.6" fill="#404040" text-anchor="end">10</text>
<text x="101.9" y="448.3" font-size="22" letter-spacing="-0.6" fill="#404040" text-anchor="end">20</text>
<text x="101.9" y="404.9" font-size="22" letter-spacing="-0.6" fill="#404040" text-anchor="end">30</text>
<text x="101.9" y="361.4" font-size="22" letter-spacing="-0.6" fill="#404040" text-anchor="end">40</text>
<text x="101.9" y="317.9" font-size="22" letter-spacing="-0.6" fill="#404040" text-anchor="end">50</text>
<text x="101.9" y="274.4" font-size="22" letter-spacing="-0.6" fill="#404040" text-anchor="end">60</text>
<text x="101.9" y="230.9" font-size="22" letter-spacing="-0.6" fill="#404040" text-anchor="end">70</text>
<text x="101.9" y="187.5" font-size="22" letter-spacing="-0.6" fill="#404040" text-anchor="end">80</text>
<text x="101.9" y="144.0" font-size="22" letter-spacing="-0.6" fill="#404040" text-anchor="end">90</text>
<text x="101.9" y="100.5" font-size="22" letter-spacing="-0.6" fill="#404040" text-anchor="end">100</text>
<text x="1623.4" y="535.1" font-size="22" letter-spacing="-0.3" fill="#7f7f7f">0</text>
<text x="1623.4" y="491.6" font-size="22" letter-spacing="-0.3" fill="#7f7f7f">5</text>
<text x="1623.4" y="448.1" font-size="22" letter-spacing="-0.3" fill="#7f7f7f">10</text>
<text x="1623.4" y="404.7" font-size="22" letter-spacing="-0.3" fill="#7f7f7f">15</text>
<text x="1623.4" y="361.2" font-size="22" letter-spacing="-0.3" fill="#7f7f7f">20</text>
<text x="1623.4" y="317.7" font-size="22" letter-spacing="-0.3" fill="#7f7f7f">25</text>
<text x="1623.4" y="274.2" font-size="22" letter-spacing="-0.3" fill="#7f7f7f">30</text>
<text x="1623.4" y="230.7" font-size="22" letter-spacing="-0.3" fill="#7f7f7f">35</text>
<text x="1623.4" y="187.3" font-size="22" letter-spacing="-0.3" fill="#7f7f7f">40</text>
<text x="1623.4" y="143.8" font-size="22" letter-spacing="-0.3" fill="#7f7f7f">45</text>
<text x="1623.4" y="100.3" font-size="22" letter-spacing="-0.3" fill="#7f7f7f">50</text>
<text x="128.5" y="551.2" font-size="15.7" fill="#404040" text-anchor="end" transform="rotate(-45 128.5 551.2)">01-10-20</text>
<text x="163.9" y="551.2" font-size="15.7" fill="#404040" text-anchor="end" transform="rotate(-45 163.9 551.2)">08-10-20</text>
<text x="199.2" y="551.2" font-size="15.7" fill="#404040" text-anchor="end" transform="rotate(-45 199.2 551.2)">15-10-20</text>
<text x="234.6" y="551.2" font-size="15.7" fill="#404040" text-anchor="end" transform="rotate(-45 234.6 551.2)">22-10-20</text>
<text x="270.0" y="551.2" font-size="15.7" fill="#404040" text-anchor="end" transform="rotate(-45 270.0 551.2)">29-10-20</text>
<text x="305.3" y="551.2" font-size="15.7" fill="#404040" text-anchor="end" transform="rotate(-45 305.3 551.2)">05-11-20</text>
<text x="340.7" y="551.2" font-size="15.7" fill="#404040" text-anchor="end" transform="rotate(-45 340.7 551.2)">12-11-20</text>
<text x="376.1" y="551.2" font-size="15.7" fill="#404040" text-anchor="end" transform="rotate(-45 376.1 551.2)">19-11-20</text>
<text x="411.4" y="551.2" font-size="15.7" fill="#404040" text-anchor="end" transform="rotate(-45 411.4 551.2)">26-11-20</text>
<text x="446.8" y="551.2" font-size="15.7" fill="#404040" text-anchor="end" transform="rotate(-45 446.8 551.2)">03-12-20</text>
<text x="482.1" y="551.2" font-size="15.7" fill="#404040" text-anchor="end" transform="rotate(-45 482.1 551.2)">10-12-20</text>
<text x="517.5" y="551.2" font-size="15.7" fill="#404040" text-anchor="end" transform="rotate(-45 517.5 551.2)">17-12-20</text>
<text x="552.9" y="551.2" font-size="15.7" fill="#404040" text-anchor="end" transform="rotate(-45 552.9 551.2)">24-12-20</text>
<text x="588.2" y="551.2" font-size="15.7" fill="#404040" text-anchor="end" transform="rotate(-45 588.2 551.2)">31-12-20</text>
<text x="623.6" y="551.2" font-size="15.7" fill="#404040" text-anchor="end" transform="rotate(-45 623.6 551.2)">07-01-21</text>
<text x="658.9" y="551.2" font-size="15.7" fill="#404040" text-anchor="end" transform="rotate(-45 658.9 551.2)">14-01-21</text>
<text x="694.3" y="551.2" font-size="15.7" fill="#404040" text-anchor="end" transform="rotate(-45 694.3 551.2)">21-01-21</text>
<text x="729.7" y="551.2" font-size="15.7" fill="#404040" text-anchor="end" transform="rotate(-45 729.7 551.2)">28-01-21</text>
<text x="765.0" y="551.2" font-size="15.7" fill="#404040" text-anchor="end" transform="rotate(-45 765.0 551.2)">04-02-21</text>
<text x="800.4" y="551.2" font-size="15.7" fill="#404040" text-anchor="end" transform="rotate(-45 800.4 551.2)">11-02-21</text>
<text x="835.7" y="551.2" font-size="15.7" fill="#404040" text-anchor="end" transform="rotate(-45 835.7 551.2)">18-02-21</text>
<text x="871.1" y="551.2" font-size="15.7" fill="#404040" text-anchor="end" transform="rotate(-45 871.1 551.2)">25-02-21</text>
<text x="906.5" y="551.2" font-size="15.7" fill="#404040" text-anchor="end" transform="rotate(-45 906.5 551.2)">04-03-21</text>
<text x="941.8" y="551.2" font-size="15.7" fill="#404040" text-anchor="end" transform="rotate(-45 941.8 551.2)">11-03-21</text>
<text x="977.2" y="551.2" font-size="15.7" fill="#404040" text-anchor="end" transform="rotate(-45 977.2 551.2)">18-03-21</text>
<text x="1012.6" y="551.2" font-size="15.7" fill="#404040" text-anchor="end" transform="rotate(-45 1012.6 551.2)">25-03-21</text>
<text x="1047.9" y="551.2" font-size="15.7" fill="#404040" text-anchor="end" transform="rotate(-45 1047.9 551.2)">01-04-21</text>
<text x="1083.3" y="551.2" font-size="15.7" fill="#404040" text-anchor="end" transform="rotate(-45 1083.3 551.2)">08-04-21</text>
<text x="1118.6" y="551.2" font-size="15.7" fill="#404040" text-anchor="end" transform="rotate(-45 1118.6 551.2)">15-04-21</text>
<text x="1154.0" y="551.2" font-size="15.7" fill="#404040" text-anchor="end" transform="rotate(-45 1154.0 551.2)">22-04-21</text>
<text x="1189.4" y="551.2" font-size="15.7" fill="#404040" text-anchor="end" transform="rotate(-45 1189.4 551.2)">29-04-21</text>
<text x="1224.7" y="551.2" font-size="15.7" fill="#404040" text-anchor="end" transform="rotate(-45 1224.7 551.2)">06-05-21</text>
<text x="1260.1" y="551.2" font-size="15.7" fill="#404040" text-anchor="end" transform="rotate(-45 1260.1 551.2)">13-05-21</text>
<text x="1295.4" y="551.2" font-size="15.7" fill="#404040" text-anchor="end" transform="rotate(-45 1295.4 551.2)">20-05-21</text>
<text x="1330.8" y="551.2" font-size="15.7" fill="#404040" text-anchor="end" transform="rotate(-45 1330.8 551.2)">27-05-21</text>
<text x="1366.2" y="551.2" font-size="15.7" fill="#404040" text-anchor="end" transform="rotate(-45 1366.2 551.2)">03-06-21</text>
<text x="1401.5" y="551.2" font-size="15.7" fill="#404040" text-anchor="end" transform="rotate(-45 1401.5 551.2)">10-06-21</text>
<text x="1436.9" y="551.2" font-size="15.7" fill="#404040" text-anchor="end" transform="rotate(-45 1436.9 551.2)">17-06-21</text>
<text x="1472.3" y="551.2" font-size="15.7" fill="#404040" text-anchor="end" transform="rotate(-45 1472.3 551.2)">24-06-21</text>
<text x="1507.6" y="551.2" font-size="15.7" fill="#404040" text-anchor="end" transform="rotate(-45 1507.6 551.2)">01-07-21</text>
<text x="1543.0" y="551.2" font-size="15.7" fill="#404040" text-anchor="end" transform="rotate(-45 1543.0 551.2)">08-07-21</text>
<text x="1578.3" y="551.2" font-size="15.7" fill="#404040" text-anchor="end" transform="rotate(-45 1578.3 551.2)">15-07-21</text>
<text x="0" y="0" font-size="20" word-spacing="1.5" fill="#404040" text-anchor="middle" transform="translate(23.7 285.7) rotate(-90)">Ρυθμός μεταβολής κρουσμάτων</text>
<rect x="94" y="19" width="33" height="11" fill="#a5a5a5"/>
<path d="M94 56.7H127.6" stroke="#ed7d31" stroke-width="2.2"/>
<path d="M930.5 56.7H964.6" stroke="#4472c4" stroke-width="2.2"/>
<path d="M931 25H942.5M959 25H964" stroke="#d01010" stroke-width="4.5" stroke-linecap="round"/>
<text x="130.6" y="31.6" font-size="20" word-spacing="2.3" fill="#333333">Κρούσματα ανά 100.000 (Κυλιόμενος μέσος όρος 7 ημερών)</text>
<text x="130.6" y="63.5" font-size="20" word-spacing="1.7" fill="#333333">Ρυθμός μεταβολής επιβεβαιωμένων κρουσμάτων (7days moving average)</text>
<text x="969.2" y="31.6" font-size="20" word-spacing="2.6" fill="#333333">Όριο μετάβασης σε κόκκινη περιοχή</text>
<text x="967.4" y="63.5" font-size="20" word-spacing="1.85" fill="#333333">Ρυθμός μεταβολής κρουσμάτων μοντέλου (7days moving average)</text>
</svg></body></html>
